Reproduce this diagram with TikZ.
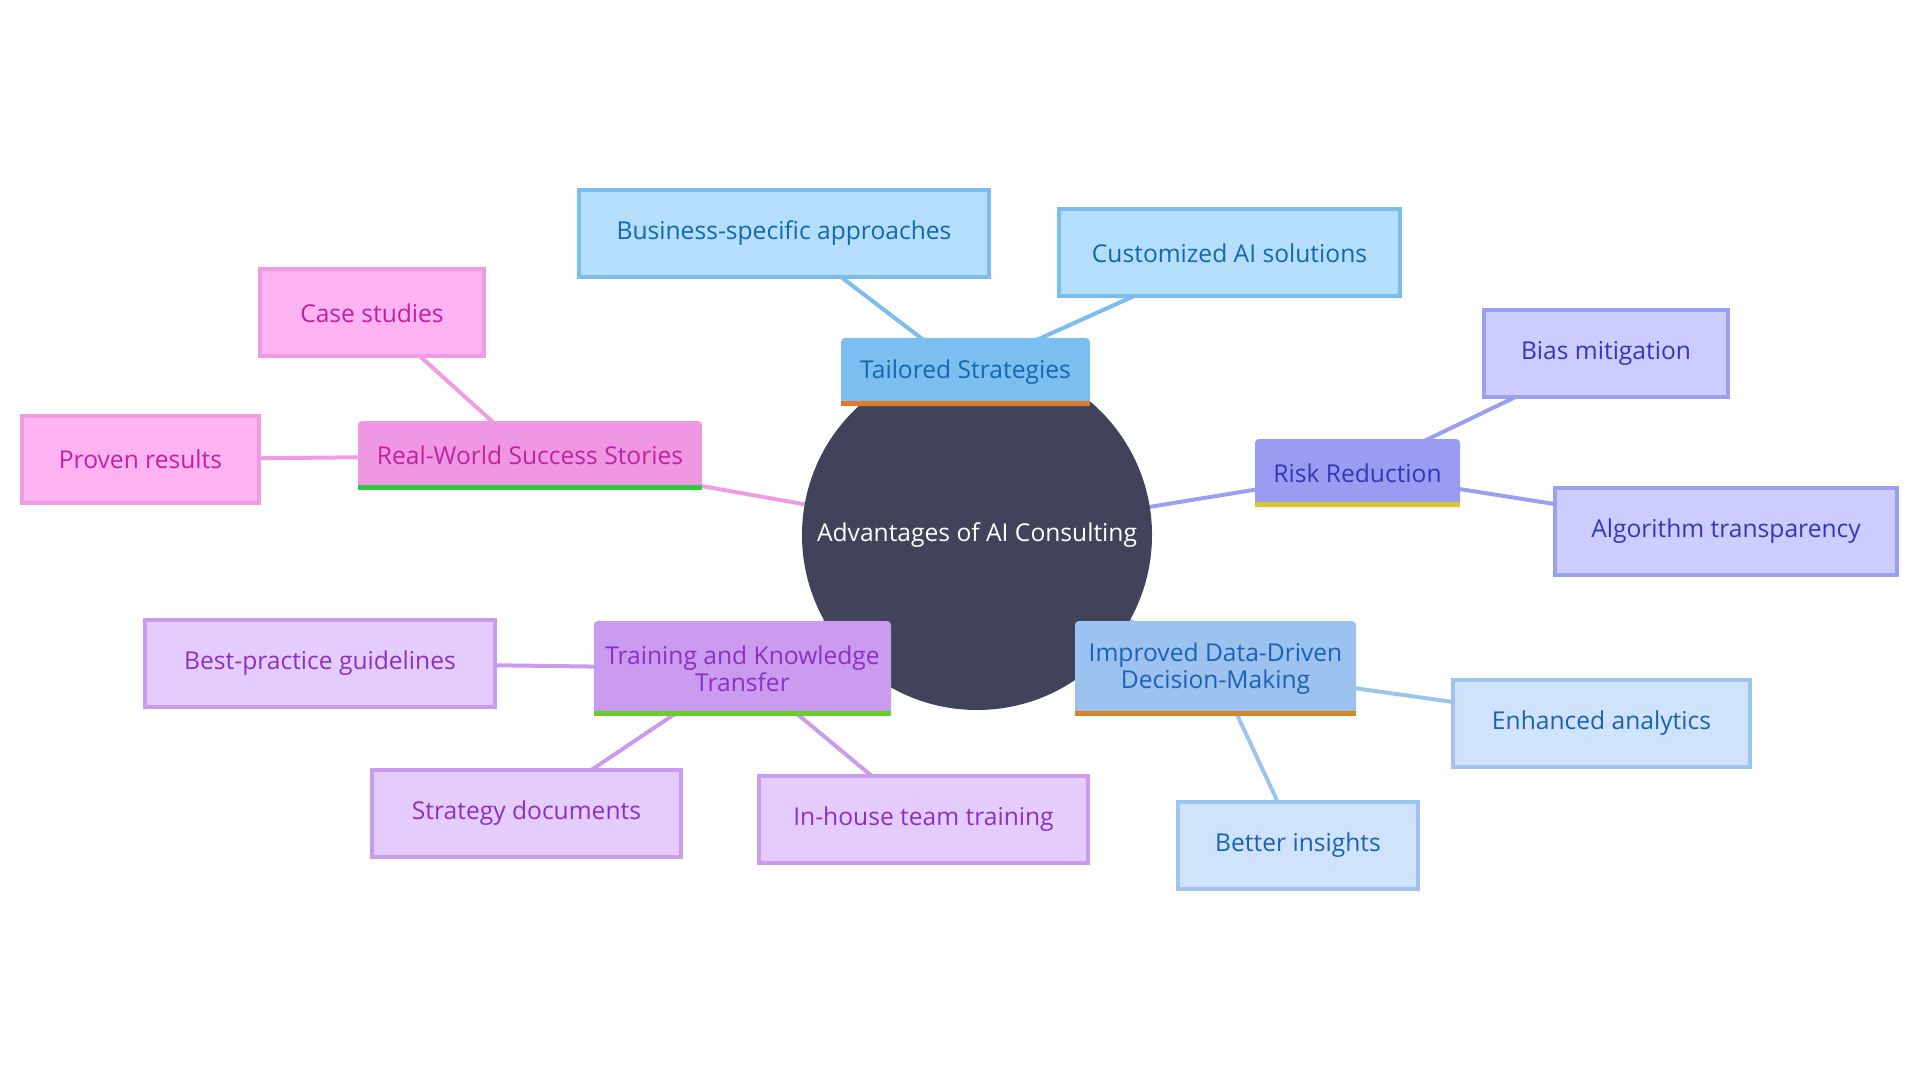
\documentclass[tikz,border=0pt]{standalone}
\usepackage{fontspec}
\setmainfont{Open Sans}
\usetikzlibrary{backgrounds}

\definecolor{rootfill}{HTML}{404359}
% blue branch
\definecolor{tsfill}{HTML}{7BBFF0}
\definecolor{tstext}{HTML}{1566AE}
\definecolor{tsleaf}{HTML}{B3DFFD}
\definecolor{tsline}{HTML}{7BBDEC}
% violet branch
\definecolor{rrfill}{HTML}{999CF0}
\definecolor{rrtext}{HTML}{3535B8}
\definecolor{rrleaf}{HTML}{CCCDFE}
\definecolor{rrline}{HTML}{9B9FF0}
% light blue branch
\definecolor{idfill}{HTML}{9CC3F0}
\definecolor{idtext}{HTML}{1B61B5}
\definecolor{idleaf}{HTML}{CFE3FC}
\definecolor{idline}{HTML}{9EC4EE}
% purple branch
\definecolor{tkfill}{HTML}{CB9BF0}
\definecolor{tktext}{HTML}{8A30C6}
\definecolor{tkleaf}{HTML}{E5CCFE}
\definecolor{tkline}{HTML}{CB9BEE}
% pink branch
\definecolor{rwfill}{HTML}{F097E3}
\definecolor{rwtext}{HTML}{C0229F}
\definecolor{rwleaf}{HTML}{FDB3F2}
\definecolor{rwline}{HTML}{F09CE3}
% bars
\definecolor{barorange}{HTML}{E07B2C}
\definecolor{barbrown}{HTML}{D4882B}
\definecolor{baryellow}{HTML}{D4C92A}
\definecolor{bargreen}{HTML}{2ECC40}
\definecolor{barlime}{HTML}{6CCC2C}

\tikzset{
  txt/.style={font=\fontsize{12.3}{13.5}\selectfont, align=center, inner sep=0pt},
  mainbox/.style={txt, rounded corners=2pt, fill=#1fill, text=#1text},
  leafbox/.style={txt, fill=#1leaf, draw=#1line, line width=2pt, text=#1text},
  link/.style={#1line, line width=2pt},
}

\begin{document}
\begin{tikzpicture}[x=0.5pt, y=-0.5pt]
  \useasboundingbox (0,0) rectangle (1920,1080);

  % centre
  \node[circle, fill=rootfill, text=white, minimum size=175pt, txt] (root) at (977,535) {Advantages of AI Consulting};

  % Tailored Strategies
  \node[mainbox=ts, minimum width=124.5pt, minimum height=34pt] (ts) at (965.5,372) {Tailored Strategies};
  \node[leafbox=ts, minimum width=205pt, minimum height=43.5pt] (bsa) at (784,233.5) {Business-specific approaches};
  \node[leafbox=ts, minimum width=170.5pt, minimum height=43.5pt] (cas) at (1229.5,253) {Customized AI solutions};

  % Risk Reduction
  \node[mainbox=rr, minimum width=102.5pt, minimum height=34pt] (rr) at (1357.5,473) {Risk Reduction};
  \node[leafbox=rr, minimum width=122pt, minimum height=43.5pt] (bm) at (1606,353.5) {Bias mitigation};
  \node[leafbox=rr, minimum width=171pt, minimum height=43.5pt] (at) at (1726,531) {Algorithm transparency};

  % Improved Data-Driven Decision-Making
  \node[mainbox=id, minimum width=140.5pt, minimum height=47.5pt] (id) at (1215.5,668.5) {Improved Data-Driven\\Decision-Making};
  \node[leafbox=id, minimum width=148.5pt, minimum height=43.5pt] (ea) at (1601.5,723) {Enhanced analytics};
  \node[leafbox=id, minimum width=120pt, minimum height=43.5pt] (bi) at (1298,845.5) {Better insights};

  % Training and Knowledge Transfer
  \node[mainbox=tk, minimum width=148.5pt, minimum height=47.5pt] (tk) at (742.5,668.5) {Training and Knowledge\\Transfer};
  \node[leafbox=tk, minimum width=175pt, minimum height=43.5pt] (bp) at (320,663) {Best-practice guidelines};
  \node[leafbox=tk, minimum width=154.5pt, minimum height=43.5pt] (sd) at (526.5,813.5) {Strategy documents};
  \node[leafbox=tk, minimum width=164.5pt, minimum height=43.5pt] (ih) at (923.5,819) {In-house team training};

  % Real-World Success Stories
  \node[mainbox=rw, minimum width=172pt, minimum height=34.5pt] (rw) at (530,455.5) {Real-World Success Stories};
  \node[leafbox=rw, minimum width=112pt, minimum height=43.5pt] (cs) at (372,313) {Case studies};
  \node[leafbox=rw, minimum width=118.5pt, minimum height=43.5pt] (pr) at (140.5,459.5) {Proven results};

  % coloured bars under the branch nodes
  \fill[barorange] ([yshift=2.5pt]ts.south west) rectangle (ts.south east);
  \fill[baryellow] ([yshift=2.5pt]rr.south west) rectangle (rr.south east);
  \fill[barbrown] ([yshift=2.5pt]id.south west) rectangle (id.south east);
  \fill[barlime] ([yshift=2.5pt]tk.south west) rectangle (tk.south east);
  \fill[bargreen] ([yshift=2.5pt]rw.south west) rectangle (rw.south east);

  \begin{scope}[on background layer]
    \draw[link=ts] (root.center) -- (ts.center);
    \draw[link=ts] (ts.center) -- (bsa.center);
    \draw[link=ts] (ts.center) -- (cas.center);
    \draw[link=rr] (root.center) -- (rr.center);
    \draw[link=rr] (rr.center) -- (bm.center);
    \draw[link=rr] (rr.center) -- (at.center);
    \draw[link=id] (root.center) -- (id.center);
    \draw[link=id] (id.center) -- (ea.center);
    \draw[link=id] (id.center) -- (bi.center);
    \draw[link=tk] (root.center) -- (tk.center);
    \draw[link=tk] (tk.center) -- (bp.center);
    \draw[link=tk] (tk.center) -- (sd.center);
    \draw[link=tk] (tk.center) -- (ih.center);
    \draw[link=rw] (root.center) -- (rw.center);
    \draw[link=rw] (rw.center) -- (cs.center);
    \draw[link=rw] (rw.center) -- (pr.center);
  \end{scope}
\end{tikzpicture}
\end{document}
